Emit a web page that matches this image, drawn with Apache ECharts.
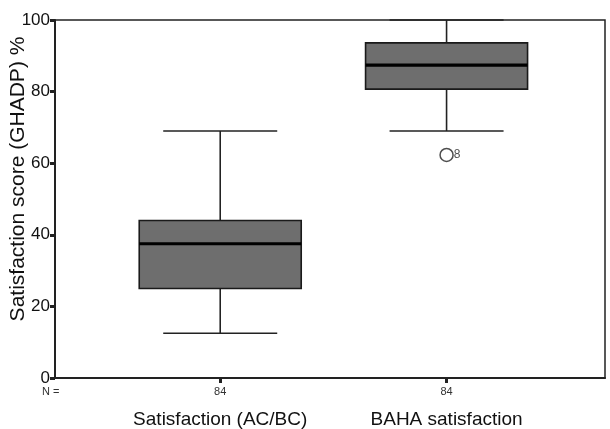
<!DOCTYPE html>
<html>
<head>
<meta charset="utf-8">
<script src="https://cdn.jsdelivr.net/npm/echarts@6/dist/echarts.min.js"></script>
<style>
  html, body { margin: 0; padding: 0; background: #fff; }
  #chart { width: 610px; height: 429px; }
</style>
</head>
<body>
<div id="chart"></div>
<script>
// groups on the x axis (positions 1 and 2)
const categories = ["Satisfaction (AC/BC)", "BAHA satisfaction"];
const groupPos = [1, 2];
const nCounts = [84, 84];
// [lower whisker, Q1, median, Q3, upper whisker]
const boxStats = [
  [12.5, 25, 37.5, 44, 69],
  [69, 80.7, 87.4, 93.6, 100]
];
// [group position, value, case label]
const outliers = [[2, 62.3, "8"]];
const yTicks = [0, 20, 40, 60, 80, 100];
const yTitle = "Satisfaction score (GHADP) %";

const chart = echarts.init(document.getElementById("chart"));

const boxData = boxStats.map(function (s, i) {
  return [groupPos[i]].concat(s);
});

function renderBox(params, api) {
  const x = api.value(0);
  const pLow = api.coord([x, api.value(1)]);
  const pQ1 = api.coord([x, api.value(2)]);
  const pMed = api.coord([x, api.value(3)]);
  const pQ3 = api.coord([x, api.value(4)]);
  const pHigh = api.coord([x, api.value(5)]);
  const cx = pMed[0];
  const boxHalf = 81;
  const capHalf = 57;
  const lineStyle = { stroke: "#222", lineWidth: 1.6 };
  return {
    type: "group",
    children: [
      { type: "line", shape: { x1: cx, y1: pHigh[1], x2: cx, y2: pQ3[1] }, style: lineStyle },
      { type: "line", shape: { x1: cx, y1: pQ1[1], x2: cx, y2: pLow[1] }, style: lineStyle },
      { type: "line", shape: { x1: cx - capHalf, y1: pHigh[1], x2: cx + capHalf, y2: pHigh[1] }, style: lineStyle },
      { type: "line", shape: { x1: cx - capHalf, y1: pLow[1], x2: cx + capHalf, y2: pLow[1] }, style: lineStyle },
      {
        type: "rect",
        shape: { x: cx - boxHalf, y: pQ3[1], width: boxHalf * 2, height: pQ1[1] - pQ3[1] },
        style: { fill: "#6e6e6e", stroke: "#1a1a1a", lineWidth: 1.6 }
      },
      { type: "line", shape: { x1: cx - boxHalf, y1: pMed[1], x2: cx + boxHalf, y2: pMed[1] }, style: { stroke: "#000", lineWidth: 3.2 } }
    ]
  };
}

chart.setOption({
  backgroundColor: "#fff",
  animation: false,
  textStyle: { fontFamily: "Liberation Sans, Arial, sans-serif" },
  grid: {
    left: 55,
    right: 5,
    top: 20,
    bottom: 51,
    containLabel: false,
    outerBoundsMode: "none",
    show: true,
    borderColor: "#222",
    borderWidth: 1.5
  },
  xAxis: {
    type: "value",
    min: 0.27,
    max: 2.70,
    splitLine: { show: false },
    axisLine: { onZero: false, lineStyle: { color: "#222", width: 2 } },
    axisTick: {
      customValues: groupPos,
      length: 5,
      lineStyle: { color: "#222", width: 3 }
    },
    axisLabel: {
      customValues: groupPos,
      margin: 6,
      formatter: function (v) {
        const i = groupPos.indexOf(v);
        return "{n|" + nCounts[i] + "}\n{c|" + categories[i] + "}";
      },
      rich: {
        n: { fontSize: 11, color: "#333", lineHeight: 16 },
        c: { fontSize: 19, color: "#111", lineHeight: 22, padding: [17, 0, 0, 0] }
      }
    }
  },
  yAxis: {
    type: "value",
    min: 0,
    max: 100,
    interval: 20,
    splitLine: { show: false },
    axisLine: { lineStyle: { color: "#222", width: 2 } },
    axisTick: { length: 5, lineStyle: { color: "#222", width: 3 } },
    axisLabel: {
      fontSize: 17,
      color: "#111",
      margin: 5,
      formatter: function (v) { return yTicks.indexOf(v) >= 0 ? String(v) : ""; }
    }
  },
  graphic: [
    {
      type: "text",
      left: 42,
      top: 386,
      style: { text: "N =", fontSize: 11, fill: "#333", fontFamily: "Liberation Sans, Arial, sans-serif" }
    },
    {
      type: "text",
      x: 18,
      y: 179,
      rotation: Math.PI / 2,
      style: {
        text: yTitle,
        fontSize: 21,
        fill: "#111",
        align: "center",
        verticalAlign: "middle",
        fontFamily: "Liberation Sans, Arial, sans-serif"
      }
    }
  ],
  series: [
    {
      type: "custom",
      renderItem: renderBox,
      encode: { x: 0, y: [1, 2, 3, 4, 5] },
      data: boxData
    },
    {
      type: "scatter",
      symbol: "circle",
      symbolSize: 13,
      itemStyle: { color: "#fff", borderColor: "#222", borderWidth: 1.5 },
      label: {
        show: true,
        position: "right",
        distance: 0,
        fontSize: 12,
        color: "#222",
        formatter: function (p) { return p.data[2]; }
      },
      data: outliers
    }
  ]
});
</script>
</body>
</html>
